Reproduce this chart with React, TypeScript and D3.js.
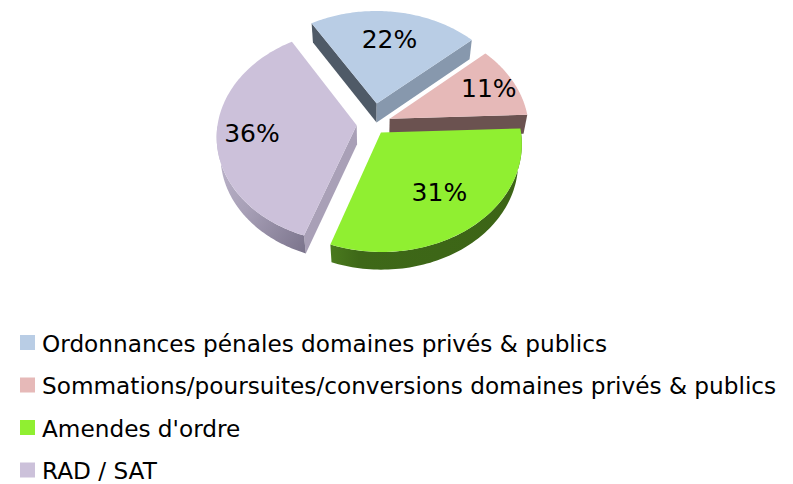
import React from "react";
import * as d3 from "d3";

const categories = [
  "Ordonnances pénales domaines privés & publics",
  "Sommations/poursuites/conversions domaines privés & publics",
  "Amendes d'ordre",
  "RAD / SAT",
];
const values = [22, 11, 31, 36];
const valueLabels = ["22%", "11%", "31%", "36%"];
const topColors = ["#B9CDE5", "#E6B9B8", "#90EF31", "#CCC1DA"];
const startWallColors = ["#4F5A67", "#6B5250", "#3F6A18", "#A9A0B7"];
const endWallColors = ["#8798AD", "#6B5250", "#3F6A18", "#A9A0B7"];
const explode = [0.2, 0.133, 0.1, 0.115];
const labelRadius = [0.68, 0.8, 0.66, 0.75];

const W = 793;
const H = 484;
const cx = 372.6;
const cy = 124;
const k = 139;
const sinB = 0.76;
const cosB = 0.65;
const Dcam = 6.5;
const depth = 0.215;

function proj(u: number, v: number, w: number): [number, number] {
  const q = 1 + (v * cosB - w * sinB) / Dcam;
  return [cx + (k * u) / q, cy - (k * (v * sinB + w * cosB)) / q];
}

export default function App() {
  const pie = d3
    .pie<number>()
    .sort(null)
    .startAngle((-31 * Math.PI) / 180)
    .endAngle((329 * Math.PI) / 180)
    .value((d) => d);
  const arcs = pie(values);
  const line = d3.line();

  const walls: { d: string; fill: string; depth: number; key: string }[] = [];
  const tops: { d: string; fill: string; key: string }[] = [];
  const texts: { x: number; y: number; t: string }[] = [];

  arcs.forEach((a, i) => {
    const mid = (a.startAngle + a.endAngle) / 2;
    const ou = explode[i] * Math.sin(mid);
    const ov = explode[i] * Math.cos(mid);
    const pt = (th: number, r: number, w: number) =>
      proj(ou + r * Math.sin(th), ov + r * Math.cos(th), w);
    const n = 80;
    const angles = d3.range(n + 1).map((j) => a.startAngle + ((a.endAngle - a.startAngle) * j) / n);
    const topPts: [number, number][] = [pt(0, 0, 0), ...angles.map((t) => pt(t, 1, 0))];
    tops.push({ d: line(topPts) + "Z", fill: topColors[i], key: "top" + i });

    if (Math.sin(a.startAngle) < 0) {
      const ps: [number, number][] = [pt(0, 0, 0), pt(a.startAngle, 1, 0), pt(a.startAngle, 1, -depth), pt(0, 0, -depth)];
      walls.push({ d: line(ps) + "Z", fill: startWallColors[i], depth: ov + 0.5 * Math.cos(a.startAngle), key: "sw" + i });
    }
    if (Math.sin(a.endAngle) > 0) {
      const ps: [number, number][] = [pt(0, 0, 0), pt(a.endAngle, 1, 0), pt(a.endAngle, 1, -depth), pt(0, 0, -depth)];
      walls.push({ d: line(ps) + "Z", fill: endWallColors[i], depth: ov + 0.5 * Math.cos(a.endAngle), key: "ew" + i });
    }
    const lo = Math.max(a.startAngle, Math.PI / 2);
    const hi = Math.min(a.endAngle, (3 * Math.PI) / 2);
    if (hi > lo) {
      const m = 80;
      const as = d3.range(m + 1).map((j) => lo + ((hi - lo) * j) / m);
      const ps: [number, number][] = [
        ...as.map((t) => pt(t, 1, 0)),
        ...as.slice().reverse().map((t) => pt(t, 1, -depth)),
      ];
      walls.push({ d: line(ps) + "Z", fill: `url(#outer${i})`, depth: ov + Math.cos((lo + hi) / 2), key: "ow" + i });
    }
    const [lx, ly] = pt(mid, labelRadius[i], 0);
    texts.push({ x: lx, y: ly, t: valueLabels[i] });
  });

  walls.sort((p, q) => q.depth - p.depth);

  const legendX = 20;
  const legendY0 = 335;
  const legendStep = 42.5;

  return (
    <svg
      width={W}
      height={H}
      style={{ position: "absolute", left: 0, top: 0, background: "#fff" }}
      fontFamily="DejaVu Sans, Verdana, sans-serif"
    >
      <defs>
        <linearGradient id="outer2" x1="0" x2="1" y1="0" y2="0">
          <stop offset="0" stopColor="#4A7A1E" />
          <stop offset="0.15" stopColor="#3E6818" />
          <stop offset="1" stopColor="#3C6416" />
        </linearGradient>
        <linearGradient id="outer3" x1="0" x2="1" y1="0" y2="1">
          <stop offset="0" stopColor="#C3BBD1" />
          <stop offset="0.5" stopColor="#A79FB6" />
          <stop offset="1" stopColor="#7A738B" />
        </linearGradient>
        <linearGradient id="outer0" x1="0" x2="1"><stop offset="0" stopColor="#8798AD" /><stop offset="1" stopColor="#8798AD" /></linearGradient>
        <linearGradient id="outer1" x1="0" x2="1"><stop offset="0" stopColor="#6B5250" /><stop offset="1" stopColor="#6B5250" /></linearGradient>
      </defs>
      <rect width={W} height={H} fill="#fff" />
      {walls.map((w) => (
        <path key={w.key} d={w.d} fill={w.fill} />
      ))}
      {tops.map((t) => (
        <path key={t.key} d={t.d} fill={t.fill} />
      ))}
      {texts.map((t, i) => (
        <text key={i} x={t.x} y={t.y} textAnchor="middle" dominantBaseline="central" fontSize={25} fill="#000">
          {t.t}
        </text>
      ))}
      {categories.map((c, i) => (
        <g key={c} transform={`translate(${legendX},${legendY0 + i * legendStep})`}>
          <rect x={0} y={0} width={15} height={15} fill={topColors[i]} />
          <text x={22} y={16.5} fontSize={23.2} fill="#000">
            {c}
          </text>
        </g>
      ))}
    </svg>
  );
}
